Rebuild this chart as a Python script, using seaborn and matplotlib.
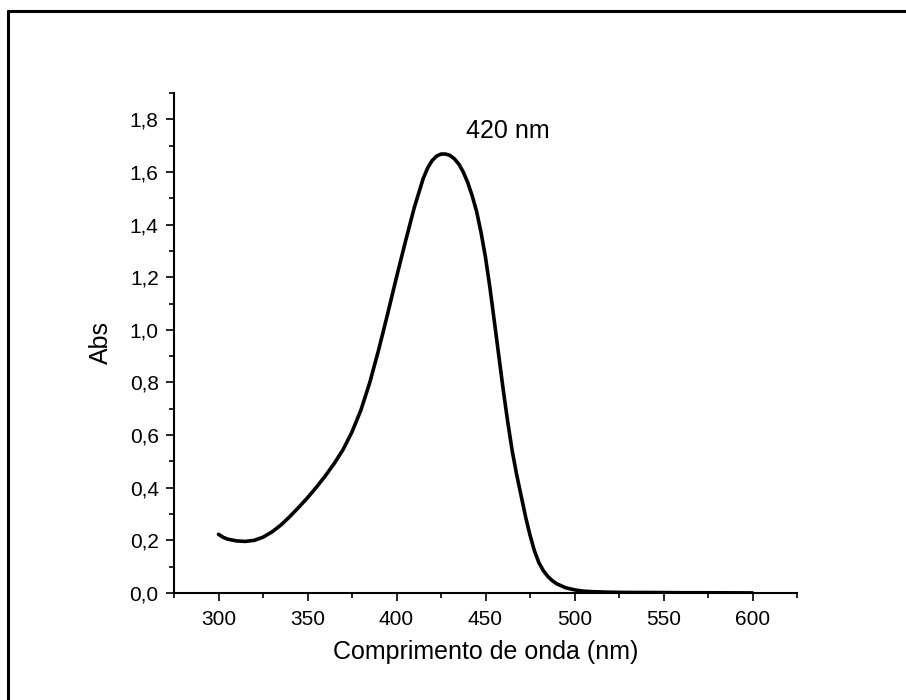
import matplotlib
matplotlib.use("Agg")
import matplotlib.pyplot as plt
from matplotlib.lines import Line2D
from matplotlib.ticker import MultipleLocator, FuncFormatter
import seaborn as sns
import pandas as pd

wavelength = [300, 302.5, 305, 310, 315, 320, 325, 330, 335, 340, 345, 350, 355, 360,
              365, 370, 375, 380, 385, 390, 395, 400, 405, 410, 415, 417.5, 420, 422.5,
              425, 427.5, 430, 432.5, 435, 437.5, 440, 442.5, 445, 447.5, 450, 452.5,
              455, 457.5, 460, 462.5, 465, 467.5, 470, 472.5, 475, 477.5, 480, 482.5,
              485, 487.5, 490, 495, 500, 505, 510, 520, 530, 540, 550, 560, 570, 580,
              590, 600]
absorbance = [0.223, 0.212, 0.205, 0.198, 0.196, 0.200, 0.212, 0.232, 0.258, 0.290,
              0.325, 0.362, 0.402, 0.445, 0.492, 0.545, 0.612, 0.695, 0.800, 0.925,
              1.060, 1.200, 1.335, 1.465, 1.575, 1.615, 1.643, 1.660, 1.668, 1.668,
              1.663, 1.650, 1.630, 1.600, 1.560, 1.510, 1.450, 1.370, 1.275, 1.160,
              1.030, 0.900, 0.770, 0.650, 0.540, 0.450, 0.370, 0.290, 0.220, 0.160,
              0.115, 0.085, 0.063, 0.047, 0.035, 0.020, 0.012, 0.007, 0.005, 0.003,
              0.002, 0.002, 0.0015, 0.001, 0.001, 0.0008, 0.0005, 0.0003]
peak_label = "420 nm"
x_label = "Comprimento de onda (nm)"
y_label = "Abs"

df = pd.DataFrame({"wavelength": wavelength, "abs": absorbance})

sns.set_style("ticks")
plt.rcParams["font.family"] = ["Liberation Sans", "DejaVu Sans"]
plt.rcParams["text.color"] = "black"
plt.rcParams["axes.labelcolor"] = "black"
plt.rcParams["xtick.color"] = "black"
plt.rcParams["ytick.color"] = "black"

fig = plt.figure(figsize=(9.06, 7.0), dpi=100)
ax = fig.add_axes([174 / 906, 1 - 593 / 700, (797 - 174) / 906, (593 - 93) / 700])

sns.lineplot(data=df, x="wavelength", y="abs", ax=ax, color="black", linewidth=2.6,
             sort=False)
ax.lines[0].set_solid_joinstyle("round")
ax.lines[0].set_solid_capstyle("round")

ax.set_xlim(275, 625)
ax.set_ylim(0, 1.9)
ax.xaxis.set_major_locator(MultipleLocator(50))
ax.xaxis.set_minor_locator(MultipleLocator(25))
ax.yaxis.set_major_locator(MultipleLocator(0.2))
ax.yaxis.set_minor_locator(MultipleLocator(0.1))
ax.yaxis.set_major_formatter(FuncFormatter(lambda v, p: f"{v:.1f}".replace(".", ",")))
ax.xaxis.set_major_formatter(FuncFormatter(lambda v, p: f"{v:.0f}"))

for s in ["top", "right"]:
    ax.spines[s].set_visible(False)
for s in ["left", "bottom"]:
    ax.spines[s].set_linewidth(1.5)
    ax.spines[s].set_color("black")

ax.tick_params(axis="both", which="major", direction="out", length=6, width=1.2,
               labelsize=15, colors="black")
ax.tick_params(axis="both", which="minor", direction="out", length=3.5, width=1.2,
               colors="black")
ax.tick_params(axis="x", which="major", pad=6)
ax.tick_params(axis="y", which="major", pad=5)

ax.set_xlabel(x_label, fontsize=18, labelpad=8, color="black")
ax.set_ylabel(y_label, fontsize=18, labelpad=12, color="black")

ax.text(439, 1.757, peak_label, fontsize=18, ha="left", va="center", color="black")

# Outer frame (top and left edges visible)
fig.add_artist(Line2D([8 / 906, 8 / 906], [0, 1 - 11 / 700], transform=fig.transFigure,
                      color="black", linewidth=2.2))
fig.add_artist(Line2D([8 / 906, 1], [1 - 11 / 700, 1 - 11 / 700], transform=fig.transFigure,
                      color="black", linewidth=2.2))

fig.savefig("out.png", dpi=100)
